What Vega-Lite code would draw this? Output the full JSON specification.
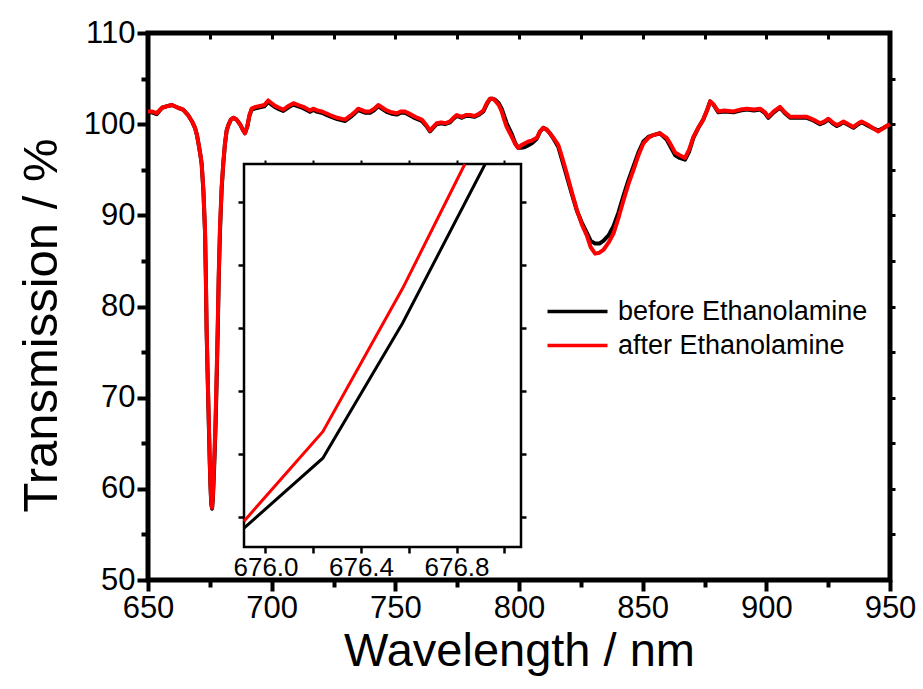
{
  "$schema": "https://vega.github.io/schema/vega-lite/v6.json",
  "width": 742,
  "height": 547,
  "autosize": {"type": "none"},
  "padding": {"left": 148, "top": 33, "right": 33, "bottom": 109},
  "background": "white",
  "config": {
    "view": {"stroke": "black", "strokeWidth": 5},
    "axis": {
      "grid": false,
      "domain": false,
      "labelFont": "Liberation Sans",
      "titleFont": "Liberation Sans",
      "labelColor": "black",
      "titleColor": "black",
      "tickColor": "black",
      "titleFontWeight": "normal",
      "labelFlush": false,
      "labelOverlap": false,
      "labelBound": false
    }
  },
  "data": {
    "values": [
      {"w": 650.0, "b": 101.3, "a": 101.4},
      {"w": 651.5, "b": 101.3, "a": 101.4},
      {"w": 653.5, "b": 101.1, "a": 101.2},
      {"w": 655.7, "b": 101.8, "a": 101.8},
      {"w": 658.1, "b": 102.0, "a": 102.0},
      {"w": 659.7, "b": 102.1, "a": 102.1},
      {"w": 662.1, "b": 101.8, "a": 101.8},
      {"w": 664.2, "b": 101.6, "a": 101.6},
      {"w": 666.2, "b": 101.0, "a": 101.0},
      {"w": 667.8, "b": 100.3, "a": 100.3},
      {"w": 669.0, "b": 99.6, "a": 99.6},
      {"w": 669.8, "b": 98.8, "a": 98.8},
      {"w": 670.6, "b": 97.6, "a": 97.6},
      {"w": 671.2, "b": 96.6, "a": 96.6},
      {"w": 671.7, "b": 95.6, "a": 95.7},
      {"w": 672.4, "b": 92.6, "a": 92.8},
      {"w": 673.05, "b": 88.2, "a": 88.4},
      {"w": 673.4, "b": 83.0, "a": 83.3},
      {"w": 673.7, "b": 77.2, "a": 77.6},
      {"w": 674.2, "b": 71.3, "a": 71.7},
      {"w": 674.66, "b": 66.3, "a": 66.7},
      {"w": 674.95, "b": 63.0, "a": 63.4},
      {"w": 675.25, "b": 60.3, "a": 60.6},
      {"w": 675.58, "b": 58.3, "a": 58.5},
      {"w": 675.91, "b": 57.82, "a": 57.93},
      {"w": 676.24, "b": 58.93, "a": 59.35},
      {"w": 676.575, "b": 61.08, "a": 61.63},
      {"w": 676.835, "a": 63.6},
      {"w": 676.92, "b": 63.6},
      {"w": 677.24, "b": 66.2, "a": 66.9},
      {"w": 677.6, "b": 70.0, "a": 70.8},
      {"w": 678.18, "b": 77.0, "a": 77.8},
      {"w": 678.6, "b": 83.0, "a": 83.6},
      {"w": 679.11, "b": 88.2, "a": 88.8},
      {"w": 679.8, "b": 93.0, "a": 93.2},
      {"w": 680.45, "b": 95.7, "a": 95.8},
      {"w": 681.1, "b": 97.8, "a": 97.8},
      {"w": 681.8, "b": 99.3, "a": 99.3},
      {"w": 682.5, "b": 99.9, "a": 99.9},
      {"w": 683.5, "b": 100.5, "a": 100.5},
      {"w": 684.5, "b": 100.7, "a": 100.7},
      {"w": 685.8, "b": 100.5, "a": 100.5},
      {"w": 687.2, "b": 100.0, "a": 100.0},
      {"w": 688.3, "b": 99.4, "a": 99.4},
      {"w": 689.2, "b": 99.0, "a": 99.0},
      {"w": 690.2, "b": 99.8, "a": 99.8},
      {"w": 691.0, "b": 100.9, "a": 101.0},
      {"w": 691.9, "b": 101.6, "a": 101.7},
      {"w": 693.5, "b": 101.75, "a": 101.9},
      {"w": 695.3, "b": 101.85, "a": 102.0},
      {"w": 697.0, "b": 101.95, "a": 102.1},
      {"w": 698.6, "b": 102.45, "a": 102.6},
      {"w": 700.0, "b": 102.15, "a": 102.3},
      {"w": 701.4, "b": 101.85, "a": 102.0},
      {"w": 703.0, "b": 101.65, "a": 101.8},
      {"w": 704.7, "b": 101.45, "a": 101.6},
      {"w": 706.8, "b": 101.85, "a": 102.0},
      {"w": 708.8, "b": 102.15, "a": 102.3},
      {"w": 710.8, "b": 101.95, "a": 102.1},
      {"w": 712.8, "b": 101.75, "a": 101.9},
      {"w": 715.5, "b": 101.35, "a": 101.5},
      {"w": 716.8, "b": 101.55, "a": 101.7},
      {"w": 718.5, "b": 101.35, "a": 101.5},
      {"w": 720.2, "b": 101.25, "a": 101.4},
      {"w": 722.0, "b": 101.05, "a": 101.2},
      {"w": 723.6, "b": 100.85, "a": 101.0},
      {"w": 726.5, "b": 100.55, "a": 100.7},
      {"w": 729.7, "b": 100.35, "a": 100.5},
      {"w": 731.7, "b": 100.75, "a": 100.9},
      {"w": 733.5, "b": 101.15, "a": 101.3},
      {"w": 735.0, "b": 101.55, "a": 101.7},
      {"w": 737.7, "b": 101.25, "a": 101.4},
      {"w": 739.8, "b": 101.25, "a": 101.4},
      {"w": 741.5, "b": 101.55, "a": 101.7},
      {"w": 743.1, "b": 101.95, "a": 102.1},
      {"w": 744.8, "b": 101.65, "a": 101.8},
      {"w": 746.5, "b": 101.35, "a": 101.5},
      {"w": 748.5, "b": 101.15, "a": 101.3},
      {"w": 750.6, "b": 101.05, "a": 101.2},
      {"w": 752.3, "b": 101.25, "a": 101.4},
      {"w": 753.9, "b": 101.25, "a": 101.4},
      {"w": 756.0, "b": 100.95, "a": 101.1},
      {"w": 758.0, "b": 100.65, "a": 100.8},
      {"w": 760.7, "b": 100.35, "a": 100.5},
      {"w": 762.5, "b": 99.8, "a": 99.9},
      {"w": 764.0, "b": 99.2, "a": 99.3},
      {"w": 765.3, "b": 99.6, "a": 99.7},
      {"w": 766.7, "b": 100.0, "a": 100.1},
      {"w": 768.5, "b": 100.1, "a": 100.2},
      {"w": 770.1, "b": 100.0, "a": 100.1},
      {"w": 772.1, "b": 100.2, "a": 100.3},
      {"w": 773.5, "b": 100.6, "a": 100.7},
      {"w": 774.8, "b": 100.9, "a": 101.0},
      {"w": 776.9, "b": 100.7, "a": 100.8},
      {"w": 778.5, "b": 100.9, "a": 101.0},
      {"w": 780.2, "b": 100.9, "a": 101.0},
      {"w": 782.0, "b": 100.8, "a": 100.9},
      {"w": 783.6, "b": 101.0, "a": 101.1},
      {"w": 785.6, "b": 101.4, "a": 101.5},
      {"w": 787.0, "b": 102.2, "a": 102.3},
      {"w": 788.3, "b": 102.8, "a": 102.8},
      {"w": 789.3, "b": 102.8, "a": 102.8},
      {"w": 790.3, "b": 102.7, "a": 102.6},
      {"w": 791.8, "b": 102.3, "a": 102.1},
      {"w": 793.0, "b": 101.7, "a": 101.4},
      {"w": 794.0, "b": 100.9, "a": 100.5},
      {"w": 795.0, "b": 100.1, "a": 99.7},
      {"w": 797.1, "b": 98.9, "a": 98.6},
      {"w": 798.5, "b": 97.9, "a": 97.8},
      {"w": 799.7, "b": 97.4, "a": 97.4},
      {"w": 801.0, "b": 97.4, "a": 97.7},
      {"w": 802.4, "b": 97.5, "a": 97.9},
      {"w": 803.8, "b": 97.7, "a": 98.1},
      {"w": 805.2, "b": 97.9, "a": 98.2},
      {"w": 807.2, "b": 98.4, "a": 98.5},
      {"w": 808.5, "b": 99.2, "a": 99.2},
      {"w": 809.8, "b": 99.6, "a": 99.6},
      {"w": 811.2, "b": 99.4, "a": 99.4},
      {"w": 812.5, "b": 99.0, "a": 99.0},
      {"w": 814.2, "b": 98.3, "a": 98.4},
      {"w": 815.9, "b": 97.5, "a": 97.7},
      {"w": 817.5, "b": 96.0, "a": 96.3},
      {"w": 819.3, "b": 94.3, "a": 94.6},
      {"w": 821.3, "b": 92.4, "a": 92.6},
      {"w": 823.4, "b": 90.5, "a": 90.6},
      {"w": 825.4, "b": 89.2, "a": 89.0},
      {"w": 827.4, "b": 88.1, "a": 87.8},
      {"w": 829.0, "b": 87.2, "a": 86.5},
      {"w": 830.8, "b": 86.9, "a": 85.8},
      {"w": 832.5, "b": 86.9, "a": 85.9},
      {"w": 834.1, "b": 87.2, "a": 86.2},
      {"w": 836.2, "b": 87.8, "a": 87.0},
      {"w": 838.2, "b": 88.8, "a": 88.0},
      {"w": 840.2, "b": 90.3, "a": 89.7},
      {"w": 842.2, "b": 92.1, "a": 91.6},
      {"w": 844.2, "b": 93.8, "a": 93.4},
      {"w": 846.3, "b": 95.4, "a": 95.0},
      {"w": 848.3, "b": 96.9, "a": 96.6},
      {"w": 850.3, "b": 98.1, "a": 97.9},
      {"w": 852.3, "b": 98.6, "a": 98.5},
      {"w": 854.3, "b": 98.8, "a": 98.8},
      {"w": 857.0, "b": 99.0, "a": 99.0},
      {"w": 859.7, "b": 98.3, "a": 98.5},
      {"w": 861.5, "b": 97.4, "a": 97.7},
      {"w": 863.1, "b": 96.6, "a": 96.9},
      {"w": 865.0, "b": 96.3, "a": 96.6},
      {"w": 867.1, "b": 96.1, "a": 96.3},
      {"w": 868.8, "b": 97.0, "a": 97.2},
      {"w": 870.5, "b": 98.5, "a": 98.6},
      {"w": 872.5, "b": 99.6, "a": 99.6},
      {"w": 874.5, "b": 100.5, "a": 100.5},
      {"w": 876.0, "b": 101.5, "a": 101.5},
      {"w": 877.3, "b": 102.5, "a": 102.5},
      {"w": 878.5, "b": 102.2, "a": 102.2},
      {"w": 880.6, "b": 101.3, "a": 101.4},
      {"w": 883.0, "b": 101.4, "a": 101.5},
      {"w": 886.7, "b": 101.3, "a": 101.4},
      {"w": 889.5, "b": 101.5, "a": 101.6},
      {"w": 892.1, "b": 101.6, "a": 101.7},
      {"w": 895.0, "b": 101.5, "a": 101.6},
      {"w": 897.5, "b": 101.6, "a": 101.7},
      {"w": 899.5, "b": 101.2, "a": 101.3},
      {"w": 900.8, "b": 100.7, "a": 100.8},
      {"w": 903.0, "b": 101.3, "a": 101.4},
      {"w": 905.5, "b": 101.8, "a": 101.9},
      {"w": 907.5, "b": 101.2, "a": 101.3},
      {"w": 909.6, "b": 100.7, "a": 100.8},
      {"w": 913.0, "b": 100.7, "a": 100.8},
      {"w": 916.4, "b": 100.7, "a": 100.8},
      {"w": 919.0, "b": 100.4, "a": 100.5},
      {"w": 921.7, "b": 100.0, "a": 100.1},
      {"w": 923.5, "b": 100.2, "a": 100.3},
      {"w": 925.1, "b": 100.5, "a": 100.6},
      {"w": 926.8, "b": 100.1, "a": 100.2},
      {"w": 928.5, "b": 99.8, "a": 99.9},
      {"w": 930.0, "b": 100.0, "a": 100.1},
      {"w": 931.2, "b": 100.2, "a": 100.3},
      {"w": 933.2, "b": 99.9, "a": 100.0},
      {"w": 935.2, "b": 99.6, "a": 99.7},
      {"w": 937.2, "b": 100.0, "a": 100.1},
      {"w": 938.5, "b": 100.2, "a": 100.3},
      {"w": 941.3, "b": 99.8, "a": 99.9},
      {"w": 943.5, "b": 99.5, "a": 99.5},
      {"w": 945.3, "b": 99.3, "a": 99.2},
      {"w": 947.5, "b": 99.6, "a": 99.6},
      {"w": 949.4, "b": 99.9, "a": 99.9},
      {"w": 950.0, "b": 100.0, "a": 100.0}
    ]
  },
  "layer": [
    {
      "layer": [
        {
          "mark": {"type": "line", "strokeWidth": 4, "strokeJoin": "round", "invalid": "filter"},
          "encoding": {
            "x": {
              "field": "w",
              "type": "quantitative",
              "scale": {"domain": [650, 950], "nice": false, "zero": false},
              "axis": {
                "orient": "bottom",
                "title": "Wavelength / nm",
                "titleFontSize": 47,
                "titlePadding": 5,
                "values": [650, 675, 700, 725, 750, 775, 800, 825, 850, 875, 900, 925, 950],
                "labelExpr": "datum.value % 50 == 0 ? datum.label : ''",
                "labelFontSize": 31,
                "labelPadding": 2,
                "tickWidth": 4,
                "tickSize": {"condition": {"test": "datum.value % 50 == 0", "value": 11}, "value": 7}
              }
            },
            "y": {
              "field": "b",
              "type": "quantitative",
              "scale": {"domain": [50, 110], "nice": false, "zero": false},
              "axis": {
                "orient": "left",
                "title": "Transmission / %",
                "titleFontSize": 49,
                "titlePadding": 17,
                "titleY": 292,
                "values": [50, 55, 60, 65, 70, 75, 80, 85, 90, 95, 100, 105, 110],
                "labelExpr": "datum.value % 10 == 0 ? datum.label : ''",
                "labelFontSize": 31,
                "labelPadding": 2,
                "tickWidth": 4,
                "tickSize": {"condition": {"test": "datum.value % 10 == 0", "value": 11}, "value": 7}
              }
            },
            "color": {
              "datum": "before Ethanolamine",
              "type": "nominal",
              "scale": {"domain": ["before Ethanolamine", "after Ethanolamine"], "range": ["#000000", "#ff0000"]},
              "legend": {
                "orient": "none",
                "legendX": 416,
                "legendY": 265,
                "title": null,
                "padding": 0,
                "symbolType": "M-4,0H4",
                "symbolSize": 225,
                "symbolStrokeWidth": 3.5,
                "labelFont": "Liberation Sans",
                "labelFontSize": 27,
                "labelColor": "black",
                "labelLimit": 0,
                "labelOffset": 27,
                "rowPadding": 6
              }
            }
          }
        },
        {
          "mark": {"type": "line", "strokeWidth": 4, "strokeJoin": "round", "invalid": "filter"},
          "encoding": {
            "x": {
              "field": "w",
              "type": "quantitative",
              "axis": {
                "orient": "top",
                "title": null,
                "labels": false,
                "values": [675, 700, 725, 750, 775, 800, 825, 850, 875, 900, 925],
                "tickWidth": 3,
                "tickSize": -6
              }
            },
            "y": {
              "field": "a",
              "type": "quantitative",
              "axis": {
                "orient": "right",
                "title": null,
                "labels": false,
                "values": [55, 60, 65, 70, 75, 80, 85, 90, 95, 100, 105],
                "tickWidth": 3,
                "tickSize": 5
              }
            },
            "color": {"datum": "after Ethanolamine", "type": "nominal"}
          }
        }
      ],
      "resolve": {"axis": {"x": "independent", "y": "independent"}}
    },
    {
      "transform": [{"filter": "datum.w >= 675.9 && datum.w <= 676.93"}],
      "layer": [
        {
          "transform": [{"aggregate": [{"op": "count", "as": "n"}]}],
          "mark": {"type": "rect", "filled": false, "stroke": "black", "strokeWidth": 2.5},
          "encoding": {
            "x": {
              "datum": 675.91,
              "type": "quantitative",
              "scale": {"domain": [675.91, 677.07], "range": [96, 373], "nice": false, "zero": false},
              "axis": {
                "orient": "bottom",
                "offset": -33,
                "title": null,
                "values": [676.0, 676.2, 676.4, 676.6, 676.8, 677.0],
                "format": ".1f",
                "labelExpr": "(datum.label == '676.0' || datum.label == '676.4' || datum.label == '676.8') ? datum.label : ''",
                "labelFontSize": 26,
                "labelPadding": 1,
                "tickSize": 6,
                "tickWidth": 2.5
              }
            },
            "x2": {"datum": 677.07},
            "y": {
              "datum": 57.52,
              "type": "quantitative",
              "scale": {"domain": [57.52, 63.6], "range": [514, 131], "nice": false, "zero": false},
              "axis": {
                "orient": "left",
                "offset": -96,
                "title": null,
                "values": [58, 59, 60, 61, 62, 63],
                "labels": false,
                "tickSize": 6,
                "tickWidth": 2.5
              }
            },
            "y2": {"datum": 63.6}
          }
        },
        {
          "mark": {"type": "line", "strokeWidth": 3, "color": "black", "invalid": "filter"},
          "encoding": {
            "x": {"field": "w", "type": "quantitative", "axis": null},
            "y": {"field": "b", "type": "quantitative", "axis": null}
          }
        },
        {
          "mark": {"type": "line", "strokeWidth": 3, "color": "#ff0000", "invalid": "filter"},
          "encoding": {
            "x": {
              "field": "w",
              "type": "quantitative",
              "axis": {
                "orient": "top",
                "offset": -131,
                "title": null,
                "labels": false,
                "values": [676.0, 676.2, 676.4, 676.6, 676.8, 677.0],
                "tickSize": 4,
                "tickWidth": 2
              }
            },
            "y": {
              "field": "a",
              "type": "quantitative",
              "axis": {
                "orient": "right",
                "offset": -369,
                "title": null,
                "labels": false,
                "values": [58, 59, 60, 61, 62, 63],
                "tickSize": 5,
                "tickWidth": 2.5
              }
            }
          }
        }
      ],
      "resolve": {"axis": {"x": "independent", "y": "independent"}}
    }
  ],
  "resolve": {"scale": {"x": "independent", "y": "independent"}}
}
